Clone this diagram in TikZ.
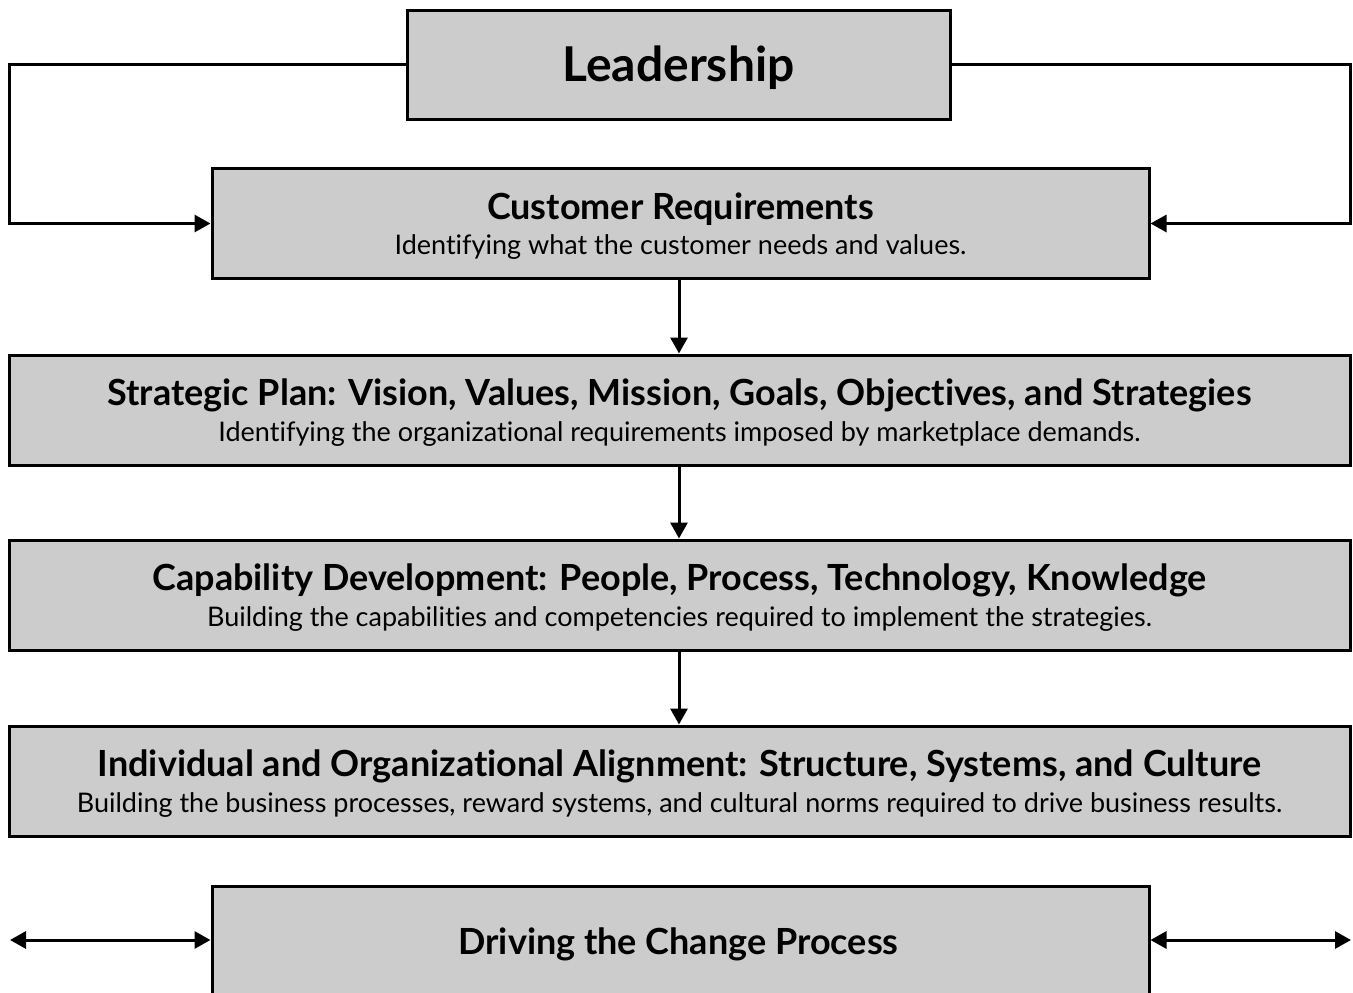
\documentclass[tikz,border=0pt]{standalone}
\usepackage{fontspec}
\setmainfont{Lato}[Ligatures=NoCommon]
\usetikzlibrary{arrows.meta}
\definecolor{boxgray}{HTML}{CCCCCC}
\begin{document}
\begin{tikzpicture}[x=1pt,y=-1pt,
  box/.style={draw=black, line width=3pt, fill=boxgray, inner sep=0pt},
  widebox/.style={box, minimum width=1341pt, minimum height=110pt},
  midbox/.style={box, minimum width=937pt, minimum height=110pt},
  headtext/.style={anchor=base, inner sep=0pt, yshift=4.5pt,
    font=\fontsize{36}{40}\selectfont\bfseries},
  subtext/.style={anchor=base, inner sep=0pt, yshift=-31pt,
    font=\fontsize{27}{32}\selectfont},
  link/.style={line width=3pt, -{Triangle[length=16pt,width=17pt]}},
  twoway/.style={line width=3pt, {Triangle[length=16pt,width=17pt]}-{Triangle[length=16pt,width=17pt]}}]
  \useasboundingbox (0,0) rectangle (1353,993);
  \clip (0,0) rectangle (1353,993);

  % boxes
  \node[box, minimum width=543pt, minimum height=109pt] (lead) at (678.5,64.5) {};
  \node[midbox] (cust) at (680.5,223.5) {};
  \node[widebox] (strat) at (679.5,410) {};
  \node[widebox] (cap) at (679.5,595) {};
  \node[widebox] (align) at (679.5,781) {};
  \node[midbox, anchor=north] (drive) at (680.5,885) {};

  % box texts
  \node[anchor=base, inner sep=0pt, yshift=-16.5pt, font=\fontsize{48}{52}\selectfont\bfseries]
    (leadtext) at (lead.center) {Leadership};
  \node[headtext] (custhead) at (cust.center) {Customer Requirements};
  \node[subtext] (custsub) at (cust.center) {Identifying what the customer needs and values.};
  \node[headtext] (strathead) at (strat.center)
    {Strategic Plan: Vision, Values, Mission, Goals, Objectives, and Strategies};
  \node[subtext] (stratsub) at (strat.center)
    {Identifying the organizational requirements imposed by marketplace demands.};
  \node[headtext] (caphead) at (cap.center)
    {Capability Development: People, Process, Technology, Knowledge};
  \node[subtext] (capsub) at (cap.center)
    {Building the capabilities and competencies required to implement the strategies.};
  \node[headtext] (alignhead) at (align.center)
    {Individual and Organizational Alignment: Structure, Systems, and Culture};
  \node[subtext] (alignsub) at (align.center)
    {Building the business processes, reward systems, and cultural norms required to drive business results.};
  \node[anchor=base, inner sep=0pt, yshift=-13pt, font=\fontsize{36}{40}\selectfont\bfseries]
    (drivetext) at ([xshift=-2pt]drive.center) {Driving the Change Process};

  % feedback loops from leadership
  \coordinate (lfar) at (9,0);
  \coordinate (rfar) at (1350,0);
  \draw[link] (lead.west) -- (lfar |- lead.west) -- (lfar |- cust.west) -- (cust.west);
  \draw[link] (lead.east) -- (rfar |- lead.east) -- (rfar |- cust.east) -- (cust.east);

  % downward flow
  \draw[link] (cust.south -| 679,0) -- (strat.north -| 679,0);
  \draw[link] (strat.south -| 679,0) -- (cap.north -| 679,0);
  \draw[link] (cap.south -| 679,0) -- (align.north -| 679,0);

  % two-way arrows at the change process
  \coordinate (dl) at (10,940);
  \coordinate (dr) at (1351,940);
  \draw[twoway] (dl) -- (drive.west |- dl);
  \draw[twoway] (drive.east |- dr) -- (dr);
\end{tikzpicture}
\end{document}
